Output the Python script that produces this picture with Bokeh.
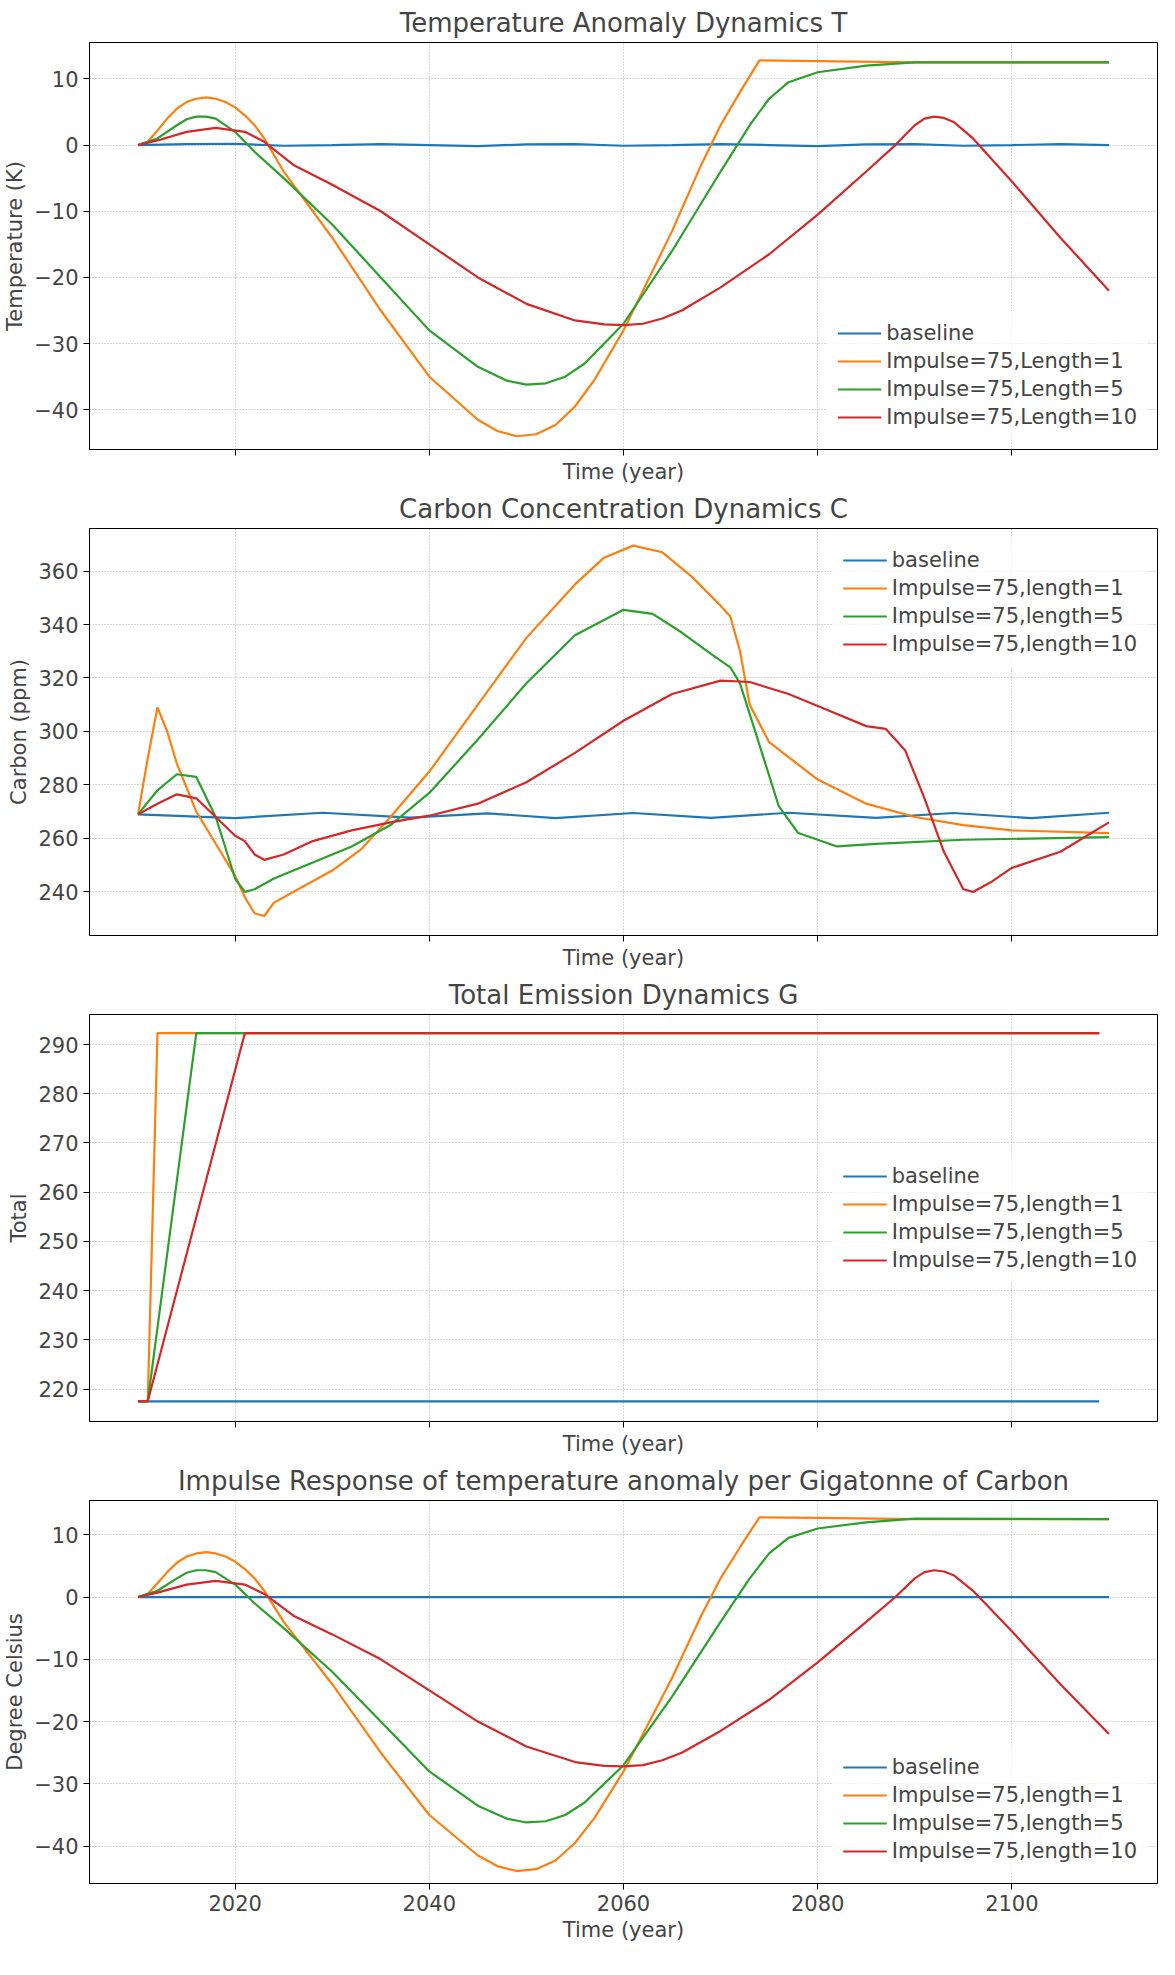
from bokeh.plotting import figure
from bokeh.layouts import column
from bokeh.models import Range1d, Legend, LegendItem, FixedTicker
from bokeh.embed import file_html
from bokeh.resources import INLINE

# ---- data ----
years_base_T = [2010, 2015, 2020, 2025, 2030, 2035, 2040, 2045, 2050, 2055, 2060, 2065, 2070, 2075, 2080, 2085, 2090, 2095, 2100, 2105, 2110]
base_T = [0, 0.15, 0.2, -0.1, 0.0, 0.15, 0.0, -0.15, 0.1, 0.15, -0.1, 0.0, 0.15, 0.0, -0.15, 0.1, 0.15, -0.1, 0.0, 0.15, 0.0]

years_T1 = [2010, 2011, 2012, 2013, 2014, 2015, 2016, 2017, 2018, 2019, 2020, 2021, 2022, 2023, 2025, 2030, 2035, 2040, 2045, 2047, 2049, 2051, 2053, 2055, 2057, 2060, 2065, 2068, 2070, 2072, 2074, 2080, 2090, 2110]
T1 = [0, 0.5, 2.2, 4, 5.5, 6.5, 7.0, 7.2, 7.0, 6.5, 5.7, 4.5, 3.0, 1, -4, -14, -25, -35, -41.5, -43.2, -44, -43.7, -42.3, -39.5, -35.5, -28, -13, -3, 3, 8, 12.8, 12.7, 12.5, 12.5]

years_T5 = [2010, 2012, 2014, 2015, 2016, 2017, 2018, 2020, 2022, 2025, 2030, 2035, 2040, 2045, 2048, 2050, 2052, 2054, 2056, 2060, 2065, 2070, 2073, 2075, 2077, 2080, 2085, 2090, 2110]
T5 = [0, 1, 3, 3.9, 4.3, 4.3, 4, 2, -1, -5, -12, -20, -28, -33.5, -35.6, -36.2, -36, -35, -33, -27, -16, -4, 3, 7, 9.5, 11, 12, 12.5, 12.5]
T5_alt = [0, 1, 3, 3.9, 4.3, 4.3, 4, 2, -1, -5, -12, -20, -28, -33.5, -35.6, -36.2, -36, -35, -33, -27, -16, -4, 3, 7, 9.5, 11, 12, 12.6, 12.5]

years_T10 = [2010, 2012, 2015, 2018, 2021, 2023, 2026, 2030, 2035, 2040, 2045, 2050, 2055, 2058, 2060, 2062, 2064, 2066, 2070, 2075, 2080, 2085, 2088, 2090, 2091, 2092, 2093, 2094, 2096, 2100, 2105, 2110]
T10 = [0, 0.7, 2, 2.6, 2, 0.5, -3, -6, -10, -15, -20, -24, -26.5, -27.1, -27.2, -27, -26.2, -25, -21.5, -16.5, -10.5, -4, 0, 3, 4.0, 4.3, 4.1, 3.5, 1, -5.5, -14, -22]

years_base_C = [2010, 2020, 2029, 2038, 2046, 2053, 2061, 2069, 2077, 2086, 2094, 2102, 2110]
base_C = [269, 267.6, 269.6, 267.8, 269.4, 267.6, 269.5, 267.7, 269.6, 267.7, 269.5, 267.6, 269.6]

years_C1 = [2010, 2011, 2012, 2013, 2014, 2016, 2018, 2020, 2021, 2022, 2023, 2024, 2027, 2030, 2033, 2036, 2040, 2045, 2050, 2055, 2058, 2061, 2064, 2067, 2070, 2071, 2072, 2073, 2075, 2080, 2085, 2090, 2095, 2100, 2110]
C1 = [269, 290, 309, 300, 288, 270, 258, 246, 238, 232, 231, 236, 242, 248, 256, 268, 285, 310, 335, 355, 365, 369.5, 367, 358, 347, 343, 330, 310, 296, 282, 273, 268, 265, 263, 262]

years_C5 = [2010, 2012, 2014, 2016, 2018, 2020, 2021, 2022, 2024, 2028, 2032, 2036, 2040, 2045, 2050, 2055, 2060, 2063, 2066, 2069, 2071, 2072, 2074, 2076, 2078, 2082, 2086, 2095, 2110]
C5 = [269, 278, 284, 283, 268, 245, 240, 241, 245, 251, 257, 265, 277, 297, 318, 336, 345.5, 344, 337, 329, 324, 318, 295, 272, 262, 257, 258, 259.5, 260.5]

years_C10 = [2010, 2012, 2014, 2016, 2018, 2020, 2021, 2022, 2023, 2025, 2028, 2032, 2036, 2040, 2045, 2050, 2055, 2060, 2065, 2070, 2073, 2077, 2081, 2085, 2087, 2089, 2091, 2093, 2095, 2096, 2098, 2100, 2105, 2110]
C10 = [269, 273, 276.5, 275, 268, 261, 259, 254, 252, 254, 259, 263, 266, 268.5, 273, 281, 292, 304, 314, 319, 318.5, 314, 308, 302, 301, 293, 275, 255, 241, 240, 244, 249, 255, 266]

years_G = [2010, 2011, 2109]
G_base = [217.5, 217.5, 217.5]
years_G1 = [2010, 2011, 2012, 2109]
G1 = [217.5, 217.5, 292.3, 292.3]
years_G5 = [2010, 2011, 2016, 2109]
G5 = [217.5, 217.5, 292.3, 292.3]
years_G10 = [2010, 2011, 2021, 2109]
G10 = [217.5, 217.5, 292.3, 292.3]

years_I0 = [2010, 2110]
I0 = [0, 0]

colors = ["#1f77b4", "#ff7f0e", "#2ca02c", "#d62728"]
FONT = "DejaVu Sans"


def make_panel(title, ylabel, yr, ticks, series, labels, loc, show_ticklabels, h):
    p = figure(width=1159, height=h, output_backend="svg", toolbar_location=None,
               x_range=Range1d(2005, 2115), y_range=Range1d(*yr),
               min_border_left=88, min_border_right=2)
    p.title.text = title
    p.title.align = "center"
    p.title.text_font = FONT
    p.title.text_font_size = "26px"
    p.title.text_font_style = "normal"
    items = []
    for (xs, ys), c, lab in zip(series, colors, labels):
        r = p.line(xs, ys, line_color=c, line_width=2.2)
        items.append(LegendItem(label=lab, renderers=[r]))
    leg = Legend(items=items, location=loc, border_line_alpha=0,
                 background_fill_alpha=0.8, label_text_font=FONT,
                 label_text_font_size="21px", glyph_width=44, spacing=4)
    p.add_layout(leg)
    p.xaxis.ticker = FixedTicker(ticks=[2020, 2040, 2060, 2080, 2100])
    p.yaxis.ticker = FixedTicker(ticks=ticks)
    p.xaxis.axis_label = "Time (year)"
    p.yaxis.axis_label = ylabel
    for ax in (p.xaxis, p.yaxis):
        ax.axis_label_text_font = FONT
        ax.axis_label_text_font_size = "21px"
        ax.axis_label_text_font_style = "normal"
        ax.major_label_text_font = FONT
        ax.major_label_text_font_size = "21px"
        ax.minor_tick_line_color = None
        ax.major_tick_out = 6
        ax.major_tick_in = 0
        ax.axis_line_color = "black"
        ax.axis_label_standoff = 4
    if not show_ticklabels:
        p.xaxis.major_label_text_alpha = 0
        p.xaxis.major_label_text_font_size = "8px"
    p.xgrid.grid_line_dash = "1 2"
    p.ygrid.grid_line_dash = "1 2"
    p.xgrid.grid_line_color = "#b0b0b0"
    p.ygrid.grid_line_color = "#b0b0b0"
    p.outline_line_color = "black"
    p.outline_line_alpha = 1
    return p


p1 = make_panel("Temperature Anomaly Dynamics T", "Temperature (K)", (-46, 15.5),
                [-40, -30, -20, -10, 0, 10],
                [(years_base_T, base_T), (years_T1, T1), (years_T5, T5), (years_T10, T10)],
                ["baseline", "Impulse=75,Length=1", "Impulse=75,Length=5", "Impulse=75,Length=10"],
                "bottom_right", False, 486)
p2 = make_panel("Carbon Concentration Dynamics C", "Carbon (ppm)", (223.7, 375.9),
                [240, 260, 280, 300, 320, 340, 360],
                [(years_base_C, base_C), (years_C1, C1), (years_C5, C5), (years_C10, C10)],
                ["baseline", "Impulse=75,length=1", "Impulse=75,length=5", "Impulse=75,length=10"],
                "top_right", False, 486)
p3 = make_panel("Total Emission Dynamics G", "Total", (213.4, 296.1),
                [220, 230, 240, 250, 260, 270, 280, 290],
                [(years_G, G_base), (years_G1, G1), (years_G5, G5), (years_G10, G10)],
                ["baseline", "Impulse=75,length=1", "Impulse=75,length=5", "Impulse=75,length=10"],
                "center_right", False, 486)
p4 = make_panel("Impulse Response of temperature anomaly per Gigatonne of Carbon", "Degree Celsius", (-46, 15.5),
                [-40, -30, -20, -10, 0, 10],
                [(years_I0, I0), (years_T1, T1), (years_T5, T5_alt), (years_T10, T10)],
                ["baseline", "Impulse=75,length=1", "Impulse=75,length=5", "Impulse=75,length=10"],
                "bottom_right", True, 486)

layout = column(p1, p2, p3, p4, spacing=0)
open("out.html", "w").write(file_html(layout, INLINE))
